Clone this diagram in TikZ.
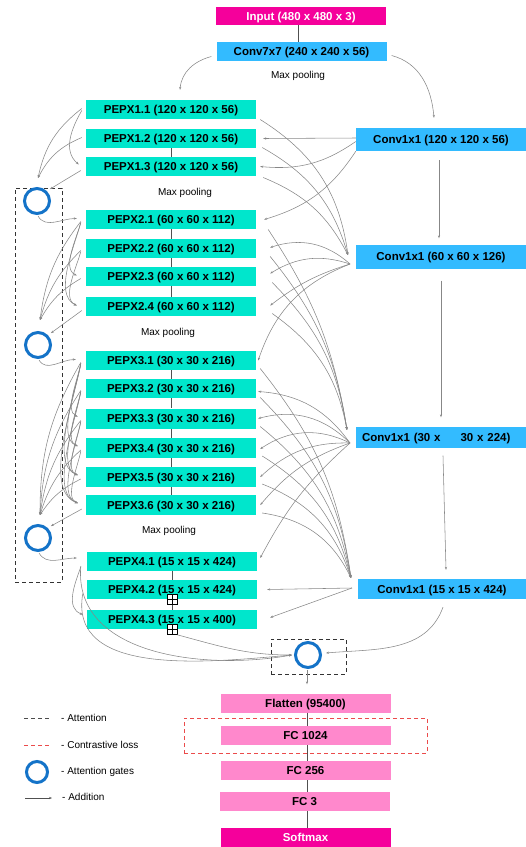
\documentclass[tikz,border=0pt]{standalone}
\usepackage{fontspec}
\setmainfont{Liberation Sans}
\usetikzlibrary{arrows.meta,calc}
\definecolor{magc}{RGB}{245,0,155}
\definecolor{convc}{RGB}{51,187,255}
\definecolor{pepxc}{RGB}{0,230,204}
\definecolor{fcc}{RGB}{255,136,204}
\definecolor{gatec}{RGB}{20,115,200}
\definecolor{linec}{RGB}{135,135,135}
\definecolor{stackc}{RGB}{80,80,80}
\definecolor{redc}{RGB}{235,75,75}
\begin{document}
\begin{tikzpicture}[x=1pt,y=1pt,
  box/.style={rectangle, inner sep=0pt, minimum height=19pt, minimum width=170pt, text height=8.2pt, text depth=0pt, font=\fontsize{11.5}{13}\selectfont\bfseries},
  pepx/.style={box, fill=pepxc},
  conv/.style={box, fill=convc},
  fcb/.style={box, fill=fcc},
  iob/.style={box, fill=magc, text=white},
  mpool/.style={font=\fontsize{10}{12}\selectfont, inner sep=0pt},
  legtxt/.style={font=\fontsize{10}{12}\selectfont, inner sep=0pt, anchor=west},
  con/.style={draw=linec, line width=0.55pt},
  arr/.style={con, -{Stealth[length=3pt,width=2.2pt]}},
  stk/.style={draw=stackc, line width=0.9pt},
  gate/.style={circle, draw=gatec, line width=3pt, minimum size=25pt, inner sep=0pt},
  attn/.style={draw=black!80, dash pattern=on 4pt off 3pt, line width=0.8pt},
  closs/.style={draw=redc, dash pattern=on 4pt off 3pt, line width=0.8pt},
  plusb/.style={rectangle, draw=black, fill=white, line width=0.6pt, minimum size=10pt, inner sep=0pt},
]
\useasboundingbox (0,0) rectangle (526,-847);

% ---- main column
\node[iob, minimum height=18pt] (in) at (301,-16) {Input (480 x 480 x 3)};
\node[conv] (c7) at (301.5,-51.5) {Conv7x7 (240 x 240 x 56)};
\node[mpool] (mp0) at (298,-76) {Max pooling};
\node[pepx] (p11) at (171,-109.5) {PEPX1.1 (120 x 120 x 56)};
\node[pepx] (p12) at (171,-138.5) {PEPX1.2 (120 x 120 x 56)};
\node[pepx] (p13) at (171,-166.5) {PEPX1.3 (120 x 120 x 56)};
\node[mpool] (mp1) at (185,-193) {Max pooling};
\node[pepx] (p21) at (171,-219.5) {PEPX2.1 (60 x 60 x 112)};
\node[pepx] (p22) at (171,-248.5) {PEPX2.2 (60 x 60 x 112)};
\node[pepx] (p23) at (171,-276.5) {PEPX2.3 (60 x 60 x 112)};
\node[pepx] (p24) at (171,-306.5) {PEPX2.4 (60 x 60 x 112)};
\node[mpool] (mp2) at (168,-333) {Max pooling};
\node[pepx] (p31) at (171,-360.5) {PEPX3.1 (30 x 30 x 216)};
\node[pepx] (p32) at (171,-388.5) {PEPX3.2 (30 x 30 x 216)};
\node[pepx, minimum height=20pt] (p33) at (171,-418.5) {PEPX3.3 (30 x 30 x 216)};
\node[pepx, minimum height=20pt] (p34) at (171,-448) {PEPX3.4 (30 x 30 x 216)};
\node[pepx, minimum height=20pt] (p35) at (171,-477) {PEPX3.5 (30 x 30 x 216)};
\node[pepx, minimum height=20pt] (p36) at (171,-505) {PEPX3.6 (30 x 30 x 216)};
\node[mpool] (mp3) at (169,-531) {Max pooling};
\node[pepx] (p41) at (172,-561) {PEPX4.1 (15 x 15 x 424)};
\node[pepx] (p42) at (172,-589.5) {PEPX4.2 (15 x 15 x 424)};
\node[pepx] (p43) at (172,-619.5) {PEPX4.3 (15 x 15 x 400)};

% ---- right column
\node[conv, minimum height=23pt] (k1) at (441,-139.5) {Conv1x1 (120 x 120 x 56)};
\node[conv, minimum height=24pt] (k2) at (441,-256.5) {Conv1x1 (60 x 60 x 126)};
\node[conv, minimum height=21pt, text width=158pt, align=left, inner xsep=6pt] (k3) at (441,-437) {Conv1x1 (30 x\hspace{20pt}30 x 224)};
\node[conv, minimum width=168pt, minimum height=20pt] (k4) at (442,-589) {Conv1x1 (15 x 15 x 424)};

% ---- bottom stack
\node[attn, minimum width=75pt, minimum height=35pt, inner sep=0pt] (ab) at (308.5,-656.5) {};
\node[gate] (g4) at (308,-655) {};
\node[fcb] (fl) at (305.5,-703) {Flatten (95400)};
\node[fcb] (f1) at (305.5,-735.5) {FC 1024};
\node[fcb] (f2) at (305.5,-770.5) {FC 256};
\node[fcb] (f3) at (304.5,-801.5) {FC 3};
\node[iob] (sm) at (305.5,-837.5) {Softmax};
\node[closs, minimum width=243pt, minimum height=35pt, inner sep=0pt] (cl) at (305.5,-735.5) {};

% ---- left attention
\node[attn, minimum width=47pt, minimum height=394pt, inner sep=0pt] (lb) at (38.5,-385) {};
\node[gate] (g1) at (37,-201) {};
\node[gate] (g2) at (38,-345) {};
\node[gate] (g3) at (38,-538) {};

% ---- stack lines
\draw[stk] ([xshift=-3pt]in.south) -- ([xshift=-3.5pt]c7.north);
\draw[stk] (p12.south) -- (p13.north);
\draw[stk] (p21.south) -- (p22.north);
\draw[stk] (p22.south) -- (p23.north);
\draw[stk] (p23.south) -- (p24.north);
\draw[stk] (p31.south) -- (p32.north);
\draw[stk] (p32.south) -- (p33.north);
\draw[stk] (p33.south) -- (p34.north);
\draw[stk] (p34.south) -- (p35.north);
\draw[stk] (p35.south) -- (p36.north);
\draw[stk] (p41.south) -- (p42.north);
\draw[stk] (p42.south) -- (p43.north);
\draw[stk] ([xshift=1.5pt]fl.south) -- ([xshift=1.5pt]f1.north);
\draw[stk] ([xshift=1.5pt]f1.south) -- ([xshift=1.5pt]f2.north);
\draw[stk] ([xshift=1.5pt]f2.south) -- ([xshift=2.5pt]f3.north);
\draw[stk] ([xshift=2.5pt]f3.south) -- ([xshift=1.5pt]sm.north);

% ---- plus boxes
\node[plusb] (pl1) at (172,-599.5) {};
\node[plusb] (pl2) at (172,-629.5) {};
\draw[line width=0.6pt] (pl1.north) -- (pl1.south) (pl1.west) -- (pl1.east);
\draw[line width=0.6pt] (pl2.north) -- (pl2.south) (pl2.west) -- (pl2.east);

% ---- coordinates
\coordinate (a1) at (38,-178);
\coordinate (a2) at (40,-320);
\coordinate (a3) at (40,-515);
\coordinate (k2in) at (348,-255);
\coordinate (k2out) at (350,-264);
\coordinate (k3in) at (347,-430);
\coordinate (k3out) at (350,-443);
\coordinate (k4in) at (351,-578);
\coordinate (k4out) at (352,-588);

% ---- top curves
\draw[arr] ([xshift=5pt,yshift=-4pt]c7.east) to[out=-15,in=95] ([xshift=-7pt,yshift=10pt]k1.north);
\draw[arr] ([xshift=-5pt,yshift=-5pt]c7.west) to[out=195,in=85] ([xshift=9pt,yshift=10pt]p11.north);

% ---- right vertical arrows
\draw[arr] ([xshift=-2pt,yshift=-9pt]k1.south) -- ([xshift=-2pt,yshift=6pt]k2.north);
\draw[arr] ([yshift=-12pt]k2.south) -- ([yshift=9pt]k3.north);
\draw[arr] ([xshift=2pt,yshift=-8pt]k3.south) -- ([xshift=4pt,yshift=9pt]k4.north);

% ---- k1 outputs
\draw[arr] ([yshift=1.5pt]k1.west) -- ([xshift=7pt]p12.east);
\draw[arr] ([yshift=-2pt]k1.west) to[bend left=20] ([xshift=4pt]p13.east);
\draw[arr] (k1.south west) to[bend left=20] ([xshift=8pt]p21.east);
% ---- k2 inputs
\draw[arr] ([xshift=4pt,yshift=-10pt]p11.east) to[bend left=25] (k2in);
\draw[arr] ([xshift=6pt,yshift=-9pt]p12.east) to[bend left=22] (k2in);
\draw[arr] ([xshift=7pt,yshift=-11pt]p13.east) to[bend left=20] (k2in);
% ---- k2 outputs
\draw[arr] (k2out) to[bend right=30] ([xshift=14pt,yshift=1pt]p22.east);
\draw[arr] (k2out) to[bend right=25] ([xshift=14pt,yshift=3pt]p23.east);
\draw[arr] (k2out) to[bend right=10] ([xshift=14pt,yshift=1pt]p24.east);
\draw[arr] (k2out) to[bend right=25] ([xshift=2pt]p31.east);
% ---- k3 inputs
\draw[arr] ([xshift=12pt,yshift=-10pt]p21.east) to[bend left=12] (k3in);
\draw[arr] ([xshift=14pt,yshift=-8pt]p22.east) to[bend left=15] (k3in);
\draw[arr] ([xshift=16pt,yshift=-6pt]p23.east) to[bend left=18] (k3in);
\draw[arr] ([xshift=16pt,yshift=-7pt]p24.east) to[bend left=22] (k3in);
% ---- k3 outputs
\draw[arr] (k3out) to[bend right=25] ([xshift=2pt,yshift=-3pt]p32.east);
\draw[arr] (k3out) to[bend right=30] ([xshift=2pt]p33.east);
\draw[arr] (k3out) to[bend right=30] ([xshift=4pt,yshift=-1pt]p34.east);
\draw[arr] (k3out) to[bend right=22] ([xshift=4pt]p35.east);
\draw[arr] (k3out) to[bend right=15] ([xshift=4pt]p36.east);
\draw[arr] (k3out) to[bend right=10] ([xshift=3pt,yshift=3pt]p41.east);
% ---- k4 inputs
\draw[arr] ([xshift=4pt,yshift=-8pt]p31.east) to[bend left=15] (k4in);
\draw[arr] ([xshift=4pt,yshift=-9pt]p32.east) to[bend left=18] (k4in);
\draw[arr] ([xshift=4pt,yshift=-8pt]p33.east) to[bend left=20] (k4in);
\draw[arr] ([xshift=6pt,yshift=-8pt]p34.east) to[bend left=22] (k4in);
\draw[arr] ([xshift=6pt,yshift=-7pt]p35.east) to[bend left=25] (k4in);
\draw[arr] ([xshift=6pt,yshift=-8pt]p36.east) to[bend left=28] (k4in);
% ---- k4 outputs
\draw[arr] (k4out) -- ([xshift=10pt]p42.east);
\draw[arr] (k4out) -- ([xshift=13pt,yshift=2pt]p43.east);
\draw[arr] ([xshift=1pt,yshift=-8pt]k4.south) to[out=250,in=5] ([xshift=4pt,yshift=2pt]g4.east);

% ---- left stage 1
\draw[arr] ([xshift=-4pt,yshift=1pt]p11.west) to[bend right=20] (a1);
\draw[arr] ([xshift=-4pt,yshift=1pt]p12.west) to[bend right=20] (a1);
\draw[arr] ([xshift=-4pt,yshift=-1pt]p11.west) to[out=240,in=140] ([xshift=-7pt,yshift=2pt]p13.west);
\draw[arr] ([xshift=-5pt,yshift=-4pt]p13.west) -- ([shift={(3pt,2pt)}]g1.north east);
\draw[arr] ([xshift=1pt,yshift=-1pt]g1.south) to[out=-60,in=180] ([xshift=-9pt,yshift=1pt]p21.west);
% ---- left stage 2
\foreach \s in {p21,p22,p23}
  \draw[arr] ([xshift=-5pt,yshift=-2pt]\s.west) to[bend right=15] (a2);
\foreach \s/\t in {p21/p23,p21/p24,p22/p24}
  \draw[arr] ([xshift=-5pt,yshift=-3pt]\s.west) to[out=255,in=155,looseness=0.8] ([xshift=-9pt,yshift=1pt]\t.west);
\draw[arr] ([xshift=-4pt,yshift=-4pt]p24.west) -- ([shift={(3pt,2pt)}]g2.north east);
\draw[arr] ([xshift=1pt,yshift=-1pt]g2.south) to[out=-60,in=180] ([xshift=-10pt,yshift=1pt]p31.west);
% ---- left stage 3
\foreach \s in {p31,p32,p33,p34,p35}
  \draw[arr] ([xshift=-5pt,yshift=-2pt]\s.west) to[bend right=15] (a3);
\foreach \s/\t in {p31/p33,p31/p34,p31/p35,p31/p36,p32/p34,p32/p35,p32/p36,p33/p35,p33/p36,p34/p36}
  \draw[arr] ([xshift=-5pt,yshift=-3pt]\s.west) to[out=260,in=160,looseness=0.7] ([xshift=-8pt,yshift=2pt]\t.west);
\draw[arr] ([xshift=-4pt,yshift=-4pt]p36.west) -- ([shift={(3pt,2pt)}]g3.north east);
\draw[arr] ([xshift=1pt,yshift=-1pt]g3.south) to[out=-60,in=180] ([xshift=-10pt,yshift=3pt]p41.west);
% ---- left stage 4
\draw[arr] ([xshift=-6pt,yshift=-6pt]p41.west) to[out=250,in=160] ([xshift=-4pt,yshift=5pt]p43.west);
\draw[arr] ([xshift=-6pt,yshift=-5pt]p41.west) to[out=265,in=190] ([xshift=-2pt]g4.west);
\draw[arr] ([xshift=-4pt,yshift=-4pt]p42.west) to[out=260,in=185] ([xshift=-2pt]g4.west);
\draw[arr] (pl2.south east) to[out=-15,in=180] ([xshift=-2pt]g4.west);
\draw[arr] ([xshift=-1pt,yshift=-1pt]g4.south) -- ([xshift=1.5pt,yshift=9pt]fl.north);

% ---- legend
\coordinate (la1) at (24,-718); \coordinate (la2) at (50,-718);
\draw[attn, draw=black!70, line width=1pt] (la1) -- (la2);
\node[legtxt] (lt1) at (61,-718) {- Attention};
\coordinate (lc1) at (24,-745); \coordinate (lc2) at (50,-745);
\draw[closs, line width=1pt] (lc1) -- (lc2);
\node[legtxt] (lt2) at (61,-745) {- Contrastive loss};
\node[gate, minimum size=21pt] (lg) at (37,-772) {};
\node[legtxt] (lt3) at (61,-772) {- Attention gates};
\coordinate (ld1) at (25,-798); \coordinate (ld2) at (52,-798);
\draw[arr, draw=stackc] (ld1) -- (ld2);
\node[legtxt] (lt4) at (62,-797) {- Addition};
\end{tikzpicture}
\end{document}
